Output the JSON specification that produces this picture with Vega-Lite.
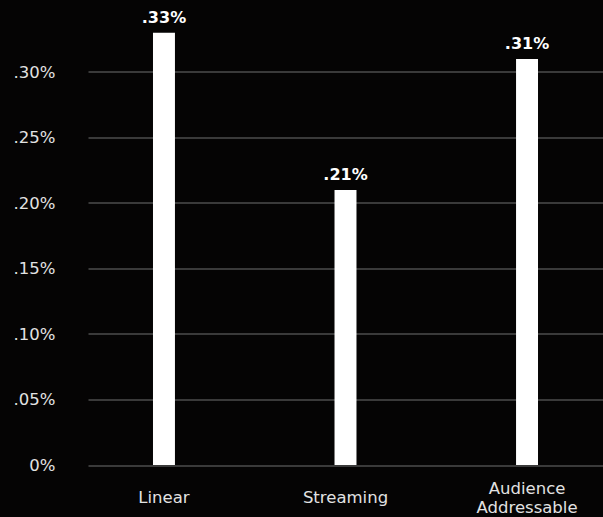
{
  "$schema": "https://vega.github.io/schema/vega-lite/v6.json",
  "autosize": {"type": "none"},
  "width": 515,
  "height": 458.5,
  "padding": {"left": 88, "top": 6.5, "right": 0, "bottom": 52},
  "background": "#050404",
  "data": {"values": [
    {"category": "Linear", "value": 0.33, "label": ".33%"},
    {"category": "Streaming", "value": 0.21, "label": ".21%"},
    {"category": "Audience Addressable", "value": 0.31, "label": ".31%"}
  ]},
  "config": {
    "view": {"stroke": null},
    "font": "DejaVu Sans"
  },
  "encoding": {
    "x": {
      "field": "category", "type": "nominal", "sort": null,
      "scale": {"paddingInner": 0.879, "paddingOuter": 0.358},
      "axis": {
        "title": null, "domain": false, "ticks": false, "labelAngle": 0,
        "labelColor": "#e2e2e2", "labelFontSize": 16.5, "labelFont": "DejaVu Sans",
        "labelBaseline": "middle", "labelLineHeight": 19,
        "labelPadding": {"condition": {"test": "datum.label == 'Audience Addressable'", "value": 23}, "value": 32},
        "labelExpr": "datum.label == 'Audience Addressable' ? ['Audience', 'Addressable'] : datum.label"
      }
    },
    "y": {
      "field": "value", "type": "quantitative",
      "scale": {"domain": [0, 0.35], "nice": false},
      "axis": {
        "title": null, "domain": false, "ticks": false,
        "values": [0, 0.05, 0.1, 0.15, 0.2, 0.25, 0.3],
        "grid": true, "gridColor": "#707070", "gridWidth": 1,
        "labelColor": "#e2e2e2", "labelFontSize": 16.5, "labelFont": "DejaVu Sans",
        "labelPadding": 33,
        "labelExpr": "datum.value == 0 ? '0%' : slice(format(datum.value, '.2f'), 1) + '%'"
      }
    }
  },
  "layer": [
    {"mark": {"type": "bar", "color": "#ffffff"}},
    {
      "mark": {"type": "text", "color": "#ffffff", "fontWeight": "bold", "fontSize": 16, "baseline": "bottom", "dy": -7, "font": "DejaVu Sans"},
      "encoding": {"text": {"field": "label"}}
    }
  ]
}
